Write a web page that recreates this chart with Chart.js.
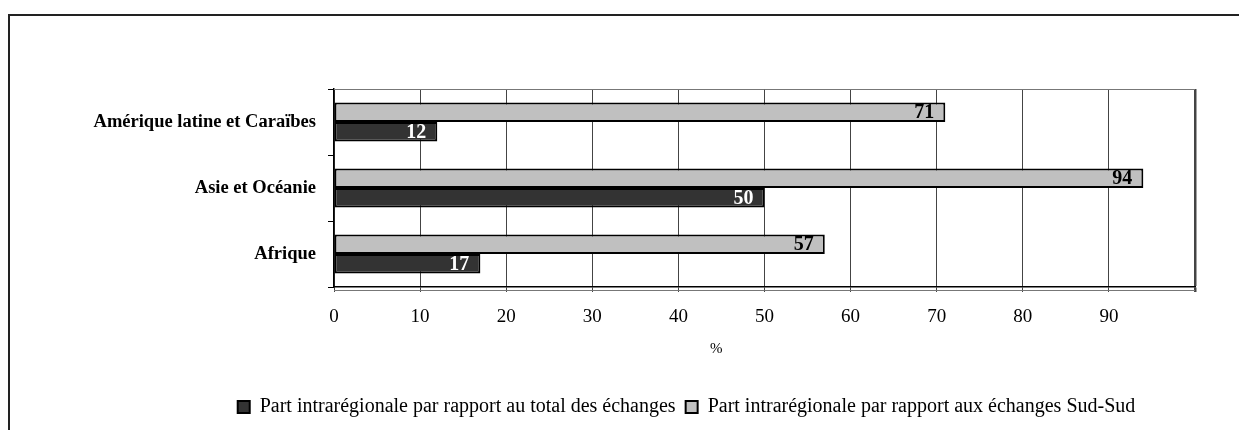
<!DOCTYPE html>
<html>
<head>
<meta charset="utf-8">
<script src="https://cdn.jsdelivr.net/npm/chart.js@4"></script>
<style>
  body { margin: 0; background: #fff; }
  #wrap { position: relative; width: 1239px; height: 430px; overflow: hidden; }
  #frame { position: absolute; left: 8px; top: 14px; width: 1300px; height: 500px;
           border-left: 2px solid #222; border-top: 2px solid #222; }
  #chart { position: absolute; left: 0; top: 0; }
</style>
</head>
<body>
<div id="wrap">
  <div id="frame"></div>
  <canvas id="chart" width="1239" height="430"></canvas>
</div>
<script type="text/javascript">
  var regions = ["Amérique latine et Caraïbes", "Asie et Océanie", "Afrique"];
  var shareOfTotal = [12, 50, 17];
  var shareOfSouthSouth = [71, 94, 57];
  var seriesNames = [
    "Part intrarégionale par rapport au total des échanges",
    "Part intrarégionale par rapport aux échanges Sud-Sud"
  ];
  var xMax = 100;
  var xStep = 10;
  var axisTitle = "%";

  Chart.defaults.font.family = "'Liberation Serif', 'Times New Roman', serif";
  Chart.defaults.color = "#000";

  // values written at the end of each bar
  var barLabels = {
    id: "barLabels",
    afterDatasetsDraw: function (chart) {
      var ctx = chart.ctx;
      ctx.save();
      ctx.font = "bold 20px 'Liberation Serif'";
      ctx.textAlign = "right";
      ctx.textBaseline = "middle";
      chart.data.datasets.forEach(function (ds, i) {
        chart.getDatasetMeta(i).data.forEach(function (bar, j) {
          ctx.fillStyle = ds.labelColor;
          ctx.fillText(String(ds.data[j]), bar.x - 11, bar.y + 1);
        });
      });
      ctx.restore();
    }
  };

  // legend sits a bit right of the page centre in the original
  var legendShift = {
    id: "legendShift",
    afterLayout: function (chart) {
      chart.legend.left += 84;
      chart.legend.right += 84;
    }
  };

  // plot frame (top line, double bottom line) and the "%" axis title
  var plotFrame = {
    id: "plotFrame",
    afterDraw: function (chart) {
      var ctx = chart.ctx;
      var a = chart.chartArea;
      ctx.save();
      ctx.strokeStyle = "#777";
      ctx.lineWidth = 1;
      ctx.beginPath();
      ctx.moveTo(a.left, a.top + 0.5);
      ctx.lineTo(a.right, a.top + 0.5);
      ctx.moveTo(a.left, a.bottom + 3.5);
      ctx.lineTo(a.right, a.bottom + 3.5);
      ctx.stroke();
      ctx.fillStyle = "#000";
      ctx.font = "15px 'Liberation Serif'";
      ctx.textAlign = "center";
      ctx.textBaseline = "middle";
      ctx.fillText(axisTitle, a.left + a.width * 0.444, 349);
      ctx.restore();
    }
  };

  new Chart("chart", {
    type: "bar",
    data: {
      labels: regions,
      datasets: [
        {
          label: seriesNames[1],
          data: shareOfSouthSouth,
          backgroundColor: "#c0c0c0",
          borderColor: "#000",
          borderWidth: 2,
          borderSkipped: false,
          labelColor: "#000"
        },
        {
          label: seriesNames[0],
          data: shareOfTotal,
          backgroundColor: "#333333",
          borderColor: "#000",
          borderWidth: 2,
          borderSkipped: false,
          labelColor: "#fff"
        }
      ]
    },
    options: {
      indexAxis: "y",
      responsive: false,
      animation: false,
      categoryPercentage: 0.59,
      barPercentage: 1.0,
      layout: {
        padding: { left: 10, right: 44, top: 89, bottom: 3 }
      },
      plugins: {
        legend: {
          position: "bottom",
          reverse: true,
          labels: {
            boxWidth: 12,
            boxHeight: 12,
            padding: 10,
            font: { size: 20 },
            color: "#000"
          }
        },
        tooltip: { enabled: false }
      },
      scales: {
        x: {
          min: 0,
          max: xMax,
          afterFit: function (scale) { scale.height = 100; },
          ticks: {
            stepSize: xStep,
            padding: 14,
            font: { size: 19 },
            color: "#000",
            callback: function (v) { return v === xMax ? "" : v; }
          },
          grid: {
            color: "#444",
            lineWidth: function (c) { return c.tick && c.tick.value === xMax ? 2.5 : 1; },
            tickLength: 5
          },
          border: { display: true, color: "#000", width: 1.5 }
        },
        y: {
          afterFit: function (scale) { scale.width = 324; },
          ticks: {
            padding: 12,
            font: { size: 18.5, weight: "bold" },
            color: "#000"
          },
          grid: {
            offset: true,
            drawOnChartArea: false,
            color: "#000",
            tickLength: 6
          },
          border: { display: true, color: "#000", width: 1.5 }
        }
      }
    },
    plugins: [barLabels, legendShift, plotFrame]
  });
</script>
</body>
</html>
